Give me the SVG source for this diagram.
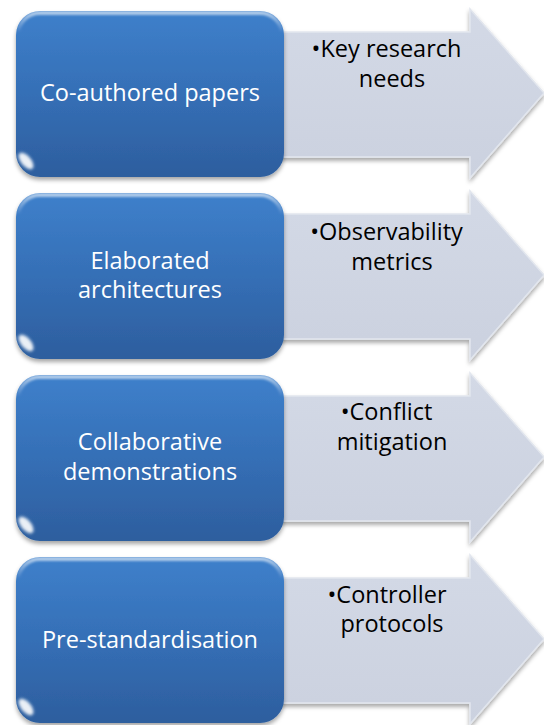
<svg xmlns="http://www.w3.org/2000/svg" width="544" height="725" viewBox="0 0 544 725">
  <defs>
    <linearGradient id="boxFill" x1="0" y1="0" x2="0" y2="1">
      <stop offset="0" stop-color="#3E80CB"/>
      <stop offset="0.5" stop-color="#356FB6"/>
      <stop offset="1" stop-color="#2D5E9E"/>
    </linearGradient>
    <linearGradient id="arrowFill" x1="0" y1="0" x2="0" y2="1">
      <stop offset="0" stop-color="#D3D9E6"/>
      <stop offset="1" stop-color="#CBD1DF"/>
    </linearGradient>
    <linearGradient id="topRim" x1="0" y1="0" x2="0" y2="1">
      <stop offset="0" stop-color="#FFFFFF" stop-opacity="0.6"/>
      <stop offset="0.12" stop-color="#FFFFFF" stop-opacity="0"/>
      <stop offset="1" stop-color="#FFFFFF" stop-opacity="0"/>
    </linearGradient>
    <filter id="shadow" x="-10%" y="-10%" width="120%" height="125%">
      <feDropShadow dx="0" dy="3" stdDeviation="2.2" flood-color="#000000" flood-opacity="0.35"/>
    </filter>
    <filter id="soft" x="-20%" y="-20%" width="140%" height="140%">
      <feGaussianBlur stdDeviation="1.2"/>
    </filter>
    <filter id="glare" x="-50%" y="-50%" width="200%" height="200%">
      <feGaussianBlur stdDeviation="1.6"/>
    </filter>
  </defs>
  <style>
    .arrow { fill: url(#arrowFill); stroke: #E2E6EE; stroke-width: 1.5; stroke-linejoin: miter; filter: url(#shadow); }
    .box { fill: url(#boxFill); filter: url(#shadow); }
    .rim { fill: none; stroke: url(#topRim); stroke-width: 4; filter: url(#soft); }
    .edge { fill: none; stroke: #9CCBF2; stroke-width: 1.5; stroke-opacity: 0.8; filter: url(#soft); }
    .spot { fill: #FFFFFF; fill-opacity: 0.9; filter: url(#glare); }
    .label { font-family: "Open Sans", "Liberation Sans", sans-serif; font-size: 23.5px; fill: #FFFFFF; text-anchor: middle; }
    .note { font-family: "Open Sans", "Liberation Sans", sans-serif; font-size: 23.5px; fill: #000000; text-anchor: middle; }
  </style>

  <!-- Row 1 -->
  <g id="arrow-1">
    <path class="arrow" d="M270 32 H470 V9 L544 93 L470 178 V157 H270 Z"/>
    <text class="note" x="386.5" y="57">•Key research</text>
    <text class="note" x="392" y="87">needs</text>
  </g>
  <g id="box-1">
    <rect class="box" x="16" y="11" width="268" height="166" rx="24"/>
    <rect class="rim" x="18" y="13" width="264" height="162" rx="22"/>
    <path class="edge" d="M281 34 V154"/>
    <ellipse class="spot" cx="26" cy="161" rx="10" ry="5" transform="rotate(50 26 161)"/>
    <text class="label" x="150" y="101">Co-authored papers</text>
  </g>

  <!-- Row 2 -->
  <g id="arrow-2">
    <path class="arrow" d="M270 214 H470 V191 L544 275 L470 360 V339 H270 Z"/>
    <text class="note" x="386.5" y="240">•Observability</text>
    <text class="note" x="392" y="270">metrics</text>
  </g>
  <g id="box-2">
    <rect class="box" x="16" y="193" width="268" height="166" rx="24"/>
    <rect class="rim" x="18" y="195" width="264" height="162" rx="22"/>
    <path class="edge" d="M281 216 V336"/>
    <ellipse class="spot" cx="26" cy="343" rx="10" ry="5" transform="rotate(50 26 343)"/>
    <text class="label" x="150" y="269">Elaborated</text>
    <text class="label" x="150" y="298">architectures</text>
  </g>

  <!-- Row 3 -->
  <g id="arrow-3">
    <path class="arrow" d="M270 396 H470 V373 L544 457 L470 542 V521 H270 Z"/>
    <text class="note" x="386.5" y="420">•Conflict</text>
    <text class="note" x="392" y="450">mitigation</text>
  </g>
  <g id="box-3">
    <rect class="box" x="16" y="375" width="268" height="166" rx="24"/>
    <rect class="rim" x="18" y="377" width="264" height="162" rx="22"/>
    <path class="edge" d="M281 398 V518"/>
    <ellipse class="spot" cx="26" cy="525" rx="10" ry="5" transform="rotate(50 26 525)"/>
    <text class="label" x="150" y="450">Collaborative</text>
    <text class="label" x="150" y="480">demonstrations</text>
  </g>

  <!-- Row 4 -->
  <g id="arrow-4">
    <path class="arrow" d="M270 578 H470 V555 L544 639 L470 724 V703 H270 Z"/>
    <text class="note" x="387" y="603">•Controller</text>
    <text class="note" x="392" y="632">protocols</text>
  </g>
  <g id="box-4">
    <rect class="box" x="16" y="557" width="268" height="166" rx="24"/>
    <rect class="rim" x="18" y="559" width="264" height="162" rx="22"/>
    <path class="edge" d="M281 580 V700"/>
    <ellipse class="spot" cx="26" cy="707" rx="10" ry="5" transform="rotate(50 26 707)"/>
    <text class="label" x="150" y="648">Pre-standardisation</text>
  </g>
</svg>
